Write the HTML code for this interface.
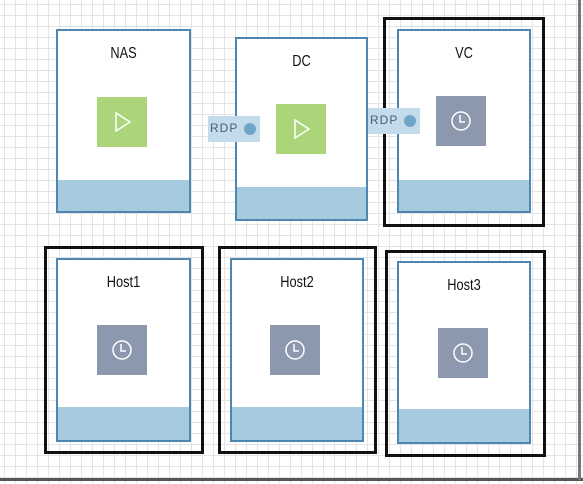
<!DOCTYPE html>
<html><head><style>
html,body{margin:0;padding:0}
body{width:583px;height:484px;position:relative;overflow:hidden;background:#fff;
background-image:linear-gradient(#e4e4e4 1px,transparent 1px),linear-gradient(90deg,#e4e4e4 1px,transparent 1px);
background-size:11px 11px;background-position:4px 4px;font-family:"Liberation Sans",sans-serif}
.a{position:absolute;box-sizing:border-box}
.node{border:2px solid #4f87b3;background:#fff}
.band{position:absolute;left:0;right:0;bottom:0;background:#a6cbdf}
.t{position:absolute;left:0;right:0;text-align:center;font-size:16px;color:#111;transform:scaleX(0.8)}
.g{background:#acd57a}
.c{background:#8b98ad}
.outer{border:3px solid #111}
.rdp{background:#c3dbea;font-size:12px;color:#44607a;letter-spacing:1px;padding:5px 0 0 2px}
.dot{position:absolute;width:12px;height:12px;border-radius:50%;background:#6fa5c8}
</style></head><body>
<div class="a" style="left:0;top:478px;width:583px;height:3px;background:#555"></div>
<div class="a" style="left:578px;top:0;width:3px;height:480px;background:#777"></div>

<div class="a node" style="left:56px;top:29px;width:135px;height:184px"><div class="t" style="top:14px">NAS</div><div class="band" style="height:31px"></div></div>
<div class="a g" style="left:97px;top:97px;width:50px;height:50px"><svg width="50" height="50"><polygon points="19,16 33,25 19,34" fill="none" stroke="#fff" stroke-width="1.5"/></svg></div>

<div class="a node" style="left:235px;top:37px;width:133px;height:184px"><div class="t" style="top:14px">DC</div><div class="band" style="height:32px"></div></div>
<div class="a g" style="left:276px;top:104px;width:50px;height:50px"><svg width="50" height="50"><polygon points="19,16 33,25 19,34" fill="none" stroke="#fff" stroke-width="1.5"/></svg></div>
<div class="a rdp" style="left:208px;top:116px;width:52px;height:26px">RDP<div class="dot" style="left:36px;top:7px"></div></div>

<div class="a outer" style="left:383px;top:17px;width:162px;height:210px"></div>
<div class="a node" style="left:397px;top:29px;width:134px;height:184px"><div class="t" style="top:14px">VC</div><div class="band" style="height:31px"></div></div>
<div class="a c" style="left:436px;top:96px;width:50px;height:50px"><svg width="50" height="50"><circle cx="25" cy="25" r="9" fill="none" stroke="#fff" stroke-width="1.5"/><path d="M24 19v7h5" fill="none" stroke="#fff" stroke-width="1.5"/></svg></div>
<div class="a rdp" style="left:368px;top:108px;width:52px;height:26px">RDP<div class="dot" style="left:36px;top:7px"></div></div>

<div class="a outer" style="left:44px;top:246px;width:160px;height:208px"></div>
<div class="a node" style="left:56px;top:258px;width:135px;height:184px"><div class="t" style="top:14px">Host1</div><div class="band" style="height:33px"></div></div>
<div class="a c" style="left:97px;top:325px;width:50px;height:50px"><svg width="50" height="50"><circle cx="25" cy="25" r="9" fill="none" stroke="#fff" stroke-width="1.5"/><path d="M24 19v7h5" fill="none" stroke="#fff" stroke-width="1.5"/></svg></div>

<div class="a outer" style="left:218px;top:246px;width:159px;height:208px"></div>
<div class="a node" style="left:230px;top:258px;width:134px;height:184px"><div class="t" style="top:14px">Host2</div><div class="band" style="height:33px"></div></div>
<div class="a c" style="left:270px;top:325px;width:50px;height:50px"><svg width="50" height="50"><circle cx="25" cy="25" r="9" fill="none" stroke="#fff" stroke-width="1.5"/><path d="M24 19v7h5" fill="none" stroke="#fff" stroke-width="1.5"/></svg></div>

<div class="a outer" style="left:385px;top:250px;width:161px;height:207px"></div>
<div class="a node" style="left:397px;top:261px;width:134px;height:183px"><div class="t" style="top:14px">Host3</div><div class="band" style="height:33px"></div></div>
<div class="a c" style="left:438px;top:328px;width:50px;height:50px"><svg width="50" height="50"><circle cx="25" cy="25" r="9" fill="none" stroke="#fff" stroke-width="1.5"/><path d="M24 19v7h5" fill="none" stroke="#fff" stroke-width="1.5"/></svg></div>
</body></html>
